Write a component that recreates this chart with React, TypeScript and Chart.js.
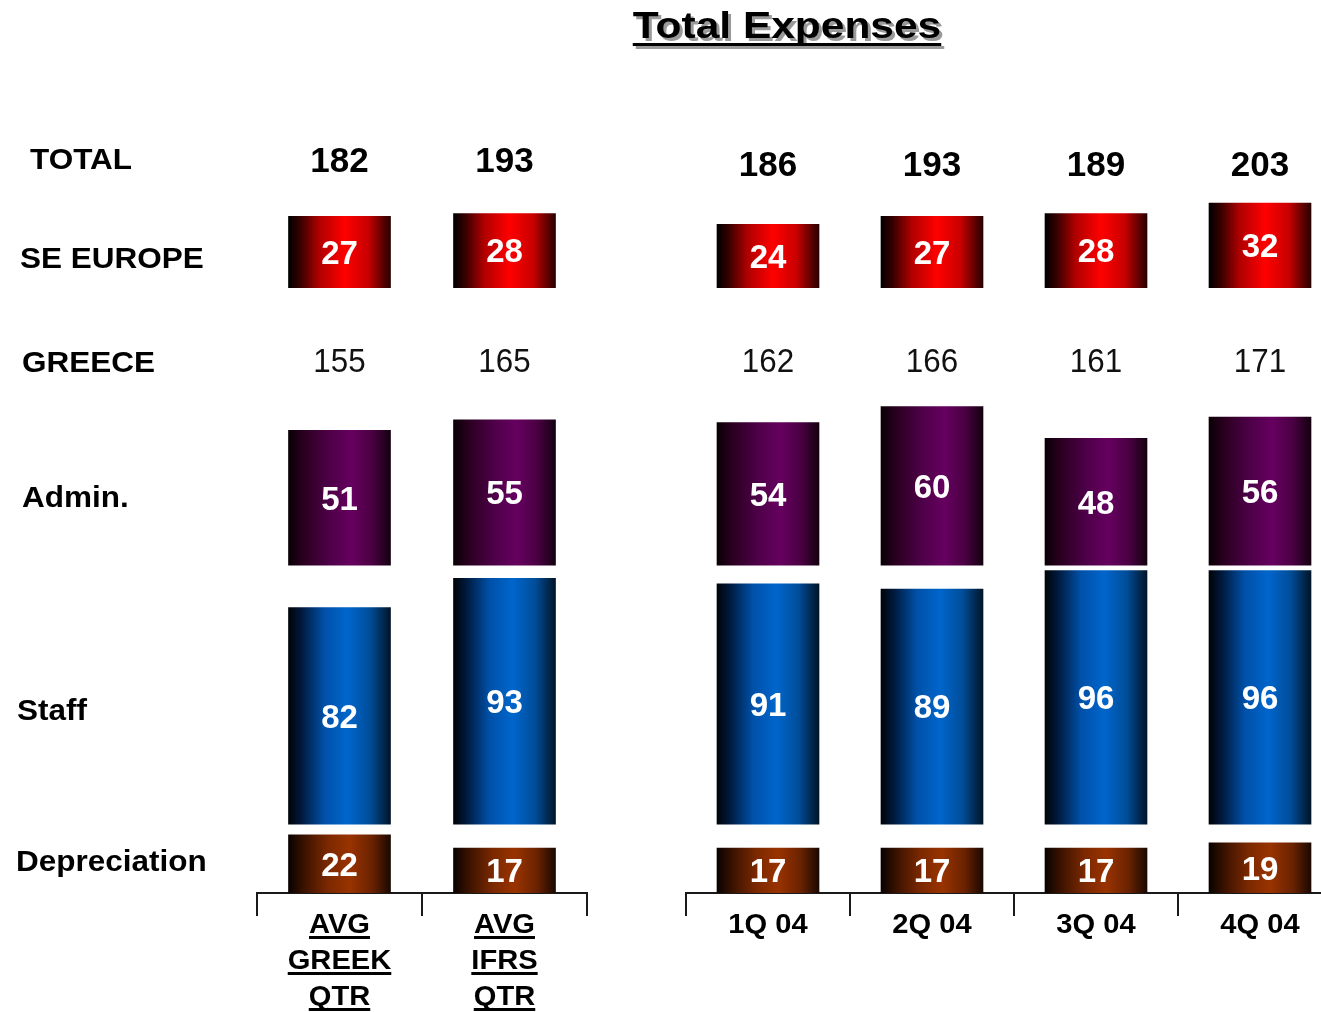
import React, { useEffect, useRef } from "react";
import { Chart, registerables } from "chart.js";

Chart.register(...registerables);

// ---------------- data ----------------
const CATEGORIES = ["AVG GREEK QTR", "AVG IFRS QTR", "1Q 04", "2Q 04", "3Q 04", "4Q 04"];
const CATEGORY_LINES = [["AVG", "GREEK", "QTR"], ["AVG", "IFRS", "QTR"], ["1Q 04"], ["2Q 04"], ["3Q 04"], ["4Q 04"]];
const DEPRECIATION = [22, 17, 17, 17, 17, 19];
const STAFF = [82, 93, 91, 89, 96, 96];
const ADMIN = [51, 55, 54, 60, 48, 56];
const SE_EUROPE = [27, 28, 24, 27, 28, 32];
const GREECE = DEPRECIATION.map((d, i) => d + STAFF[i] + ADMIN[i]);
const TOTAL = GREECE.map((g, i) => g + SE_EUROPE[i]);
const ROW_LABELS = ["TOTAL", "SE EUROPE", "GREECE", "Admin.", "Staff", "Depreciation"];
const TITLE = "Total Expenses";

// ---------------- layout (value units on the hidden y scale) ----------------
const Y_MAX = 300;
const STAFF_BASE = 26;
const ADMIN_BASE = 124;
const SE_BASE = 229;
const GREECE_ROW = 201.5;

const ROW_LABEL_X = [30, 20, 22, 22, 17, 16];
const ROW_LABEL_CY = [158, 257, 361, 496, 709, 860];

const BAR_W = 102;
const FONT = '"Liberation Sans", Arial, Helvetica, sans-serif';

const W = 1321;
const H = 1012;

type Stops = [number, string][];
const RED: Stops = [[0, "#000000"], [0.12, "#3a0000"], [0.3, "#b00000"], [0.55, "#ff0000"], [0.78, "#c80000"], [0.92, "#600000"], [1, "#2a0000"]];
const PURPLE: Stops = [[0, "#0a0006"], [0.15, "#2a0020"], [0.4, "#4e0048"], [0.62, "#660060"], [0.82, "#4a0042"], [1, "#140010"]];
const BLUE: Stops = [[0, "#000408"], [0.12, "#00183a"], [0.35, "#0050a8"], [0.58, "#0066cc"], [0.8, "#004d99"], [1, "#001428"]];
const BROWN: Stops = [[0, "#080200"], [0.15, "#3a1200"], [0.38, "#7a2800"], [0.6, "#993300"], [0.82, "#6a2200"], [1, "#1a0800"]];

function makeFill(stops: Stops) {
  return (c: any) => {
    const chart = c.chart;
    const xs = chart.scales && chart.scales.x;
    if (c.type !== "data" || c.dataIndex === undefined || !xs) return stops[3][1];
    const cx = xs.getPixelForValue(c.dataIndex);
    if (!isFinite(cx)) return stops[3][1];
    const g = chart.ctx.createLinearGradient(cx - BAR_W / 2, 0, cx + BAR_W / 2, 0);
    stops.forEach(([o, col]) => g.addColorStop(o, col));
    return g;
  };
}

function capText(
  ctx: CanvasRenderingContext2D,
  text: string,
  x: number,
  cy: number,
  size: number,
  weight: string,
  color: string,
  sx: number,
  align: CanvasTextAlign = "center"
) {
  ctx.save();
  ctx.font = `${weight} ${size}px ${FONT}`;
  ctx.fillStyle = color;
  ctx.textBaseline = "alphabetic";
  ctx.textAlign = align;
  ctx.translate(x, cy + size * 0.358);
  ctx.scale(sx, 1);
  ctx.fillText(text, 0, 0);
  ctx.restore();
}

type PanelCfg = {
  from: number;
  to: number;
  left: number;
  width: number;
  padLeft: number;
  padRight: number;
  totalRow: number;
  underline: boolean;
  frame: boolean;
};

const PANELS: PanelCfg[] = [
  { from: 0, to: 2, left: 0, width: W, padLeft: 257, padRight: W - 587, totalRow: 277.5, underline: true, frame: true },
  { from: 2, to: 6, left: 600, width: 760, padLeft: 86, padRight: 18, totalRow: 275.8, underline: false, frame: false },
];

function Panel({ cfg }: { cfg: PanelCfg }) {
  const ref = useRef<HTMLCanvasElement>(null);

  useEffect(() => {
    const canvas = ref.current;
    if (!canvas) return;
    const idx = CATEGORIES.slice(cfg.from, cfg.to);
    const sl = (a: number[]) => a.slice(cfg.from, cfg.to);
    const dep = sl(DEPRECIATION);
    const staff = sl(STAFF);
    const admin = sl(ADMIN);
    const se = sl(SE_EUROPE);
    const greece = sl(GREECE);
    const total = sl(TOTAL);
    const lines = CATEGORY_LINES.slice(cfg.from, cfg.to);

    const overlay = {
      id: "overlay",
      afterDatasetsDraw(chart: any) {
        const ctx: CanvasRenderingContext2D = chart.ctx;
        const xs = chart.scales.x;
        const ys = chart.scales.y;
        const bottom = chart.chartArea.bottom;

        chart.data.datasets.forEach((ds: any, di: number) => {
          const meta = chart.getDatasetMeta(di);
          meta.data.forEach((el: any, i: number) => {
            const p = el.getProps(["x", "y", "base"], true);
            const v = ds.data[i][1] - ds.data[i][0];
            capText(ctx, String(v), p.x, (p.y + p.base) / 2, 33, "bold", "#ffffff", 1);
          });
        });

        idx.forEach((_, i) => {
          const x = xs.getPixelForValue(i);
          capText(ctx, String(greece[i]), x, ys.getPixelForValue(GREECE_ROW), 33, "normal", "#111111", 0.95);
          capText(ctx, String(total[i]), x, ys.getPixelForValue(cfg.totalRow), 35, "bold", "#000000", 1);
          lines[i].forEach((t, k) => {
            const base = bottom + 40 + k * 36;
            ctx.save();
            ctx.font = `bold 28px ${FONT}`;
            const w = ctx.measureText(t).width * 1.04;
            ctx.restore();
            capText(ctx, t, x, base - 28 * 0.358, 28, "bold", "#000000", 1.04);
            if (cfg.underline) {
              ctx.save();
              ctx.fillStyle = "#000000";
              ctx.fillRect(x - w / 2, base + 3, w, 3);
              ctx.restore();
            }
          });
        });

        if (cfg.frame) {
          ROW_LABELS.forEach((t, k) => {
            capText(ctx, t, ROW_LABEL_X[k], ROW_LABEL_CY[k], 30, "bold", "#000000", 1.05, "left");
          });
          const sx = 1.18;
          ctx.save();
          ctx.font = `bold 36px ${FONT}`;
          const tw = ctx.measureText(TITLE).width * sx;
          ctx.restore();
          const cx = 787;
          const base = 38;
          const drawTitle = (dx: number, col: string) => {
            ctx.save();
            ctx.font = `bold 36px ${FONT}`;
            ctx.fillStyle = col;
            ctx.textAlign = "center";
            ctx.textBaseline = "alphabetic";
            ctx.translate(cx + dx, base + dx);
            ctx.scale(sx, 1);
            ctx.fillText(TITLE, 0, 0);
            ctx.restore();
            ctx.save();
            ctx.fillStyle = col;
            ctx.fillRect(cx - tw / 2 + dx, base + 5 + dx, tw, 3);
            ctx.restore();
          };
          drawTitle(3, "#9a9a9a");
          drawTitle(0, "#000000");
        }
      },
    };

    const mk = (label: string, data: number[][], stops: Stops) =>
      ({ label, data, backgroundColor: makeFill(stops), grouped: false, barThickness: BAR_W, borderWidth: 0 } as any);

    const chart = new Chart(canvas, {
      type: "bar",
      data: {
        labels: idx,
        datasets: [
          mk("Depreciation", dep.map((v) => [0, v]), BROWN),
          mk("Staff", staff.map((v) => [STAFF_BASE, STAFF_BASE + v]), BLUE),
          mk("Admin.", admin.map((v) => [ADMIN_BASE, ADMIN_BASE + v]), PURPLE),
          mk("SE EUROPE", se.map((v) => [SE_BASE, SE_BASE + v]), RED),
        ],
      },
      options: {
        responsive: false,
        animation: false,
        devicePixelRatio: 1,
        layout: { padding: { left: cfg.padLeft, right: cfg.padRight, top: 100, bottom: 96 } },
        scales: {
          x: {
            type: "category",
            offset: true,
            grid: { display: true, offset: true, drawOnChartArea: false, drawTicks: true, tickLength: 23, color: "#1a1a1a", lineWidth: 2 },
            border: { display: true, color: "#1a1a1a", width: 2 },
            ticks: { display: false },
          },
          y: { display: false, min: 0, max: Y_MAX },
        },
        plugins: { legend: { display: false }, tooltip: { enabled: false } },
      } as any,
      plugins: [overlay],
    });
    return () => chart.destroy();
  }, [cfg]);

  return (
    <canvas
      ref={ref}
      width={cfg.width}
      height={H}
      style={{ position: "absolute", left: cfg.left, top: 0, display: "block" }}
    />
  );
}

export default function App() {
  return (
    <div style={{ position: "fixed", left: 0, top: 0, width: W, height: H, overflow: "hidden", background: "#ffffff" }}>
      {PANELS.map((p, i) => (
        <Panel key={i} cfg={p} />
      ))}
    </div>
  );
}
